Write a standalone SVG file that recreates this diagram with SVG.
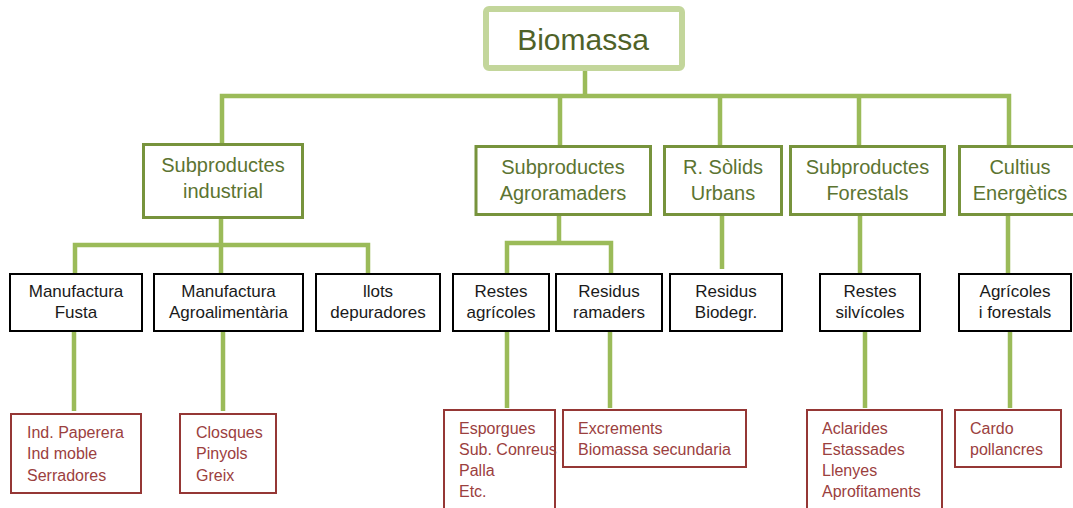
<svg xmlns="http://www.w3.org/2000/svg" width="1073" height="508" viewBox="0 0 1073 508">
<style>
text{font-family:"Liberation Sans",Arial,sans-serif}
.root{fill:#fff;stroke:#C3D69B;stroke-width:6}
.rootT{fill:#4F6228;font-size:30px;text-anchor:middle}
.l2{fill:#fff;stroke:#77933C;stroke-width:3}
.l2T{fill:#5C7431;font-size:20px;text-anchor:middle}
.l3{fill:#fff;stroke:#000;stroke-width:2}
.l3T{fill:#1a1a1a;font-size:17px;text-anchor:middle}
.l4{fill:#fff;stroke:#953735;stroke-width:2}
.l4T{fill:#9B403E;font-size:16px}
.conn{fill:none;stroke:#9BBB59;stroke-width:4.5;stroke-linejoin:miter}
</style>
<rect width="1073" height="508" fill="#fff"/>
<g id="connectors" class="conn">
<path d="M585 70V96"/>
<path d="M222 145V96H1009V145"/>
<path d="M560 96V146M720 96V146M859 96V146"/>
<path d="M221 219V273M75 273V245H368V273"/>
<path d="M559 216V243M507 273V243H611V273"/>
<path d="M722 216V269M860 216V273M1008 216V273"/>
<path d="M74 332V411M223 332V411M507 332V408M610 332V408M865 332V408M1010 332V408"/>
</g>
<g id="biomassa"><rect class="root" x="486" y="9" width="196" height="59" rx="3"/><text class="rootT" x="583" y="50">Biomassa</text></g>
<g id="sub-industrial"><rect class="l2" x="143.5" y="144.5" width="159" height="73"/><text class="l2T" x="223" y="172">Subproductes</text><text class="l2T" x="223" y="198">industrial</text></g>
<g id="sub-agroramaders"><rect class="l2" x="476" y="146.5" width="174.5" height="68"/><text class="l2T" x="563" y="174">Subproductes</text><text class="l2T" x="563" y="200">Agroramaders</text></g>
<g id="r-solids"><rect class="l2" x="664.5" y="146.5" width="117" height="68"/><text class="l2T" x="723" y="174">R. Sòlids</text><text class="l2T" x="723" y="200">Urbans</text></g>
<g id="sub-forestals"><rect class="l2" x="790.5" y="146.5" width="154" height="68"/><text class="l2T" x="867.5" y="174">Subproductes</text><text class="l2T" x="867.5" y="200">Forestals</text></g>
<g id="cultius"><rect class="l2" x="959.5" y="146.5" width="122" height="68"/><text class="l2T" x="1020" y="174">Cultius</text><text class="l2T" x="1020" y="200">Energètics</text></g>
<g id="manufactura-fusta"><rect class="l3" x="10" y="274" width="132" height="57"/><text class="l3T" x="76" y="297">Manufactura</text><text class="l3T" x="76" y="318">Fusta</text></g>
<g id="manufactura-agro"><rect class="l3" x="154" y="274" width="149" height="57"/><text class="l3T" x="228.5" y="297">Manufactura</text><text class="l3T" x="228.5" y="318">Agroalimentària</text></g>
<g id="llots"><rect class="l3" x="316" y="274" width="124" height="57"/><text class="l3T" x="378" y="297">llots</text><text class="l3T" x="378" y="318">depuradores</text></g>
<g id="restes-agricoles"><rect class="l3" x="453" y="274" width="96" height="57"/><text class="l3T" x="501" y="297">Restes</text><text class="l3T" x="501" y="318">agrícoles</text></g>
<g id="residus-ramaders"><rect class="l3" x="556" y="274" width="106" height="57"/><text class="l3T" x="609" y="297">Residus</text><text class="l3T" x="609" y="318">ramaders</text></g>
<g id="residus-biodegr"><rect class="l3" x="670" y="274" width="112" height="57"/><text class="l3T" x="726" y="297">Residus</text><text class="l3T" x="726" y="318">Biodegr.</text></g>
<g id="restes-silvicoles"><rect class="l3" x="820" y="274" width="100" height="57"/><text class="l3T" x="870" y="297">Restes</text><text class="l3T" x="870" y="318">silvícoles</text></g>
<g id="agricoles-forestals"><rect class="l3" x="959" y="274" width="112" height="57"/><text class="l3T" x="1015" y="297">Agrícoles</text><text class="l3T" x="1015" y="318">i forestals</text></g>
<g id="ind-paperera"><rect class="l4" x="11" y="414" width="130" height="79"/><text class="l4T" x="27" y="438">Ind. Paperera</text><text class="l4T" x="27" y="459">Ind moble</text><text class="l4T" x="27" y="481">Serradores</text></g>
<g id="closques"><rect class="l4" x="180" y="414" width="96" height="79"/><text class="l4T" x="196" y="438">Closques</text><text class="l4T" x="196" y="459">Pinyols</text><text class="l4T" x="196" y="481">Greix</text></g>
<g id="esporgues"><rect class="l4" x="444" y="410" width="111" height="110"/><text class="l4T" x="459" y="434">Esporgues</text><text class="l4T" x="459" y="455">Sub. Conreus</text><text class="l4T" x="459" y="476">Palla</text><text class="l4T" x="459" y="497">Etc.</text></g>
<g id="excrements"><rect class="l4" x="563" y="410" width="183" height="57"/><text class="l4T" x="578" y="434">Excrements</text><text class="l4T" x="578" y="455">Biomassa secundaria</text></g>
<g id="aclarides"><rect class="l4" x="807" y="410" width="135" height="110"/><text class="l4T" x="822" y="434">Aclarides</text><text class="l4T" x="822" y="455">Estassades</text><text class="l4T" x="822" y="476">Llenyes</text><text class="l4T" x="822" y="497">Aprofitaments</text></g>
<g id="cardo"><rect class="l4" x="955" y="410" width="106" height="57"/><text class="l4T" x="970" y="434">Cardo</text><text class="l4T" x="970" y="455">pollancres</text></g>
</svg>
